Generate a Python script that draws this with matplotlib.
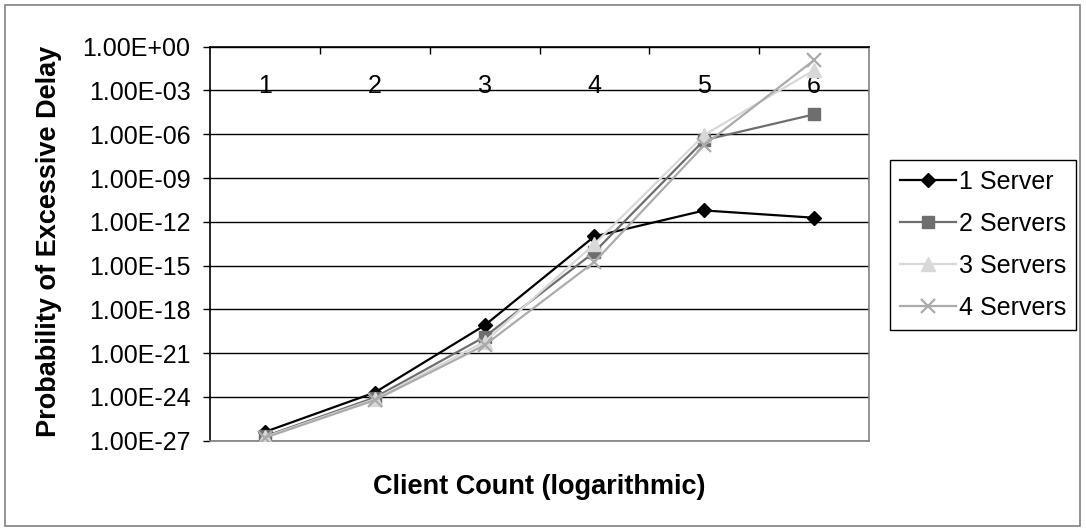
import matplotlib
matplotlib.use("Agg")
import matplotlib.pyplot as plt
from matplotlib.patches import Rectangle
from matplotlib.ticker import FixedLocator, FixedFormatter

plt.rcParams['font.family'] = ['Liberation Sans', 'DejaVu Sans']

# ---- data ----
categories = [1, 2, 3, 4, 5, 6]
category_labels = ["1", "2", "3", "4", "5", "6"]
series_names = ["1 Server", "2 Servers", "3 Servers", "4 Servers"]
one_server = [4e-27, 2e-24, 8e-20, 1e-13, 6e-12, 1.9e-12]
two_servers = [2e-27, 9e-25, 1.3e-20, 8.5e-15, 4e-7, 2.3e-5]
three_servers = [1.8e-27, 7e-25, 6e-21, 3e-14, 9e-7, 2.5e-2]
four_servers = [1.6e-27, 6e-25, 3.5e-21, 1.8e-15, 1.8e-7, 1.2e-1]
ytick_values = [1e0, 1e-3, 1e-6, 1e-9, 1e-12, 1e-15, 1e-18, 1e-21, 1e-24, 1e-27]
ytick_labels = ["1.00E+00", "1.00E-03", "1.00E-06", "1.00E-09", "1.00E-12",
                "1.00E-15", "1.00E-18", "1.00E-21", "1.00E-24", "1.00E-27"]
x_title = "Client Count (logarithmic)"
y_title = "Probability of Excessive Delay"

W, H = 1086, 531
fig = plt.figure(figsize=(W / 100, H / 100), dpi=100)
fig.patch.set_facecolor("white")

# outer border
fig.add_artist(Rectangle((5 / W, 5 / H), 1075 / W, 521 / H, transform=fig.transFigure,
                         fill=False, edgecolor="#808080", linewidth=1.2))

left, right, top, bottom = 210, 869, 46.7, 440.7
ax = fig.add_axes([left / W, 1 - bottom / H, (right - left) / W, (bottom - top) / H])

styles = [
    dict(color="#000000", marker="D", ms=6.8, mfc="#000000", mec="#000000"),
    dict(color="#6e6e6e", marker="s", ms=8.6, mfc="#6e6e6e", mec="#6e6e6e"),
    dict(color="#d8d8d8", marker="^", ms=9.5, mfc="#d8d8d8", mec="#d8d8d8"),
    dict(color="#ababab", marker="x", ms=10.5, mew=1.6),
]
all_series = [one_server, two_servers, three_servers, four_servers]
for name, vals, st in zip(series_names, all_series, styles):
    ax.plot(categories, vals, label=name, lw=1.6, zorder=3, **st)

ax.set_yscale("log")
ax.set_ylim(1e-27, 1e0)
ax.set_xlim(0.5, 6.5)

ax.yaxis.set_major_locator(FixedLocator(ytick_values))
ax.yaxis.set_major_formatter(FixedFormatter(ytick_labels))
ax.yaxis.set_minor_locator(FixedLocator([]))
ax.tick_params(axis="y", which="major", direction="out", length=5, width=1,
               color="black", labelsize=18, pad=9)
ax.grid(axis="y", which="major", color="black", linewidth=1, zorder=1)

# category axis sits at the top; labels inside plot area
ax.xaxis.set_major_locator(FixedLocator(categories))
ax.xaxis.set_major_formatter(FixedFormatter(category_labels))
ax.xaxis.set_minor_locator(FixedLocator([1.5, 2.5, 3.5, 4.5, 5.5]))
ax.tick_params(axis="x", which="both", bottom=False, labelbottom=False,
               top=True, labeltop=True)
ax.tick_params(axis="x", which="major", length=0, labelsize=18, pad=-37)
ax.tick_params(axis="x", which="minor", direction="in", length=5, width=1, color="black")

ax.spines["left"].set_color("black")
ax.spines["top"].set_color("black")
ax.spines["bottom"].set_color("#808080")
ax.spines["right"].set_color("#808080")
for s in ax.spines.values():
    s.set_linewidth(1.2)
    s.set_zorder(2)

fig.text((left + right) / 2 / W, 1 - 487 / H, x_title, ha="center", va="center",
         fontsize=19.5, fontweight="bold")
fig.text(49 / W, 1 - 241 / H, y_title, ha="center", va="center", rotation=90,
         fontsize=19.5, fontweight="bold")

leg = ax.legend(loc="upper left", bbox_to_anchor=(890 / W, 1 - 160 / H),
                bbox_transform=fig.transFigure, fontsize=18, frameon=True,
                fancybox=False, framealpha=1, edgecolor="black",
                borderaxespad=0, handlelength=2.25, handletextpad=0.1,
                labelspacing=0.72, borderpad=0.4)
leg.get_frame().set_linewidth(1)

fig.savefig("out.png", dpi=100)
